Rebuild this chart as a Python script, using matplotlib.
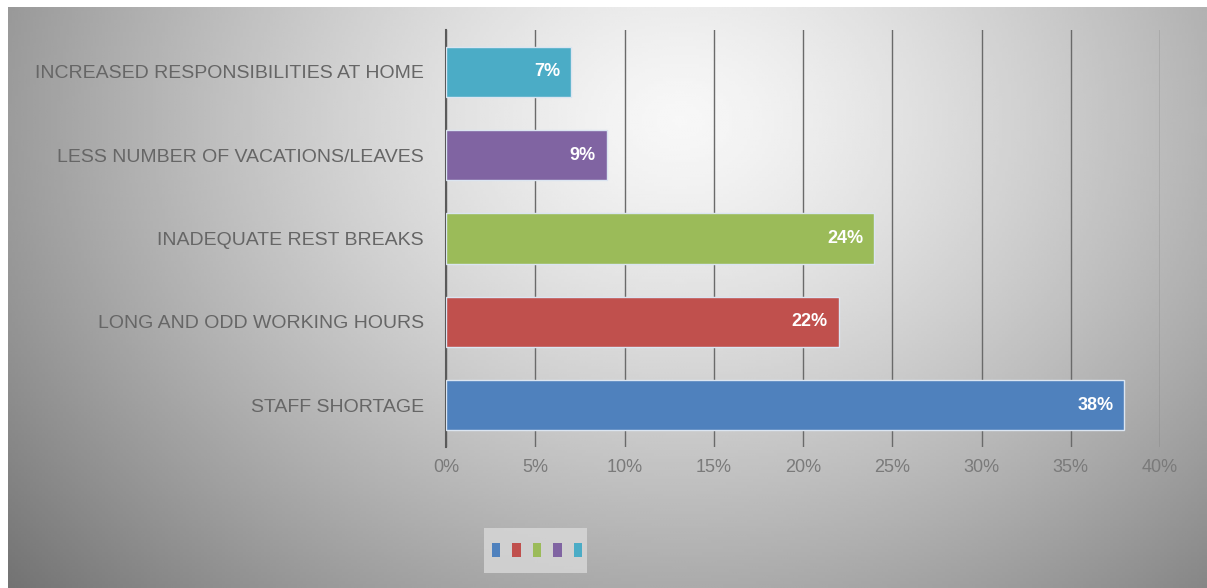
import numpy as np
import matplotlib
matplotlib.use('Agg')
import matplotlib.pyplot as plt
from matplotlib.patches import Patch, Rectangle

categories = ['STAFF SHORTAGE', 'LONG AND ODD WORKING HOURS', 'INADEQUATE REST BREAKS',
              'LESS NUMBER OF VACATIONS/LEAVES', 'INCREASED RESPONSIBILITIES AT HOME']
values = [38, 22, 24, 9, 7]
colors = ['#4f81bd', '#c0504d', '#9bbb59', '#8064a2', '#4bacc6']
xticks = [0, 5, 10, 15, 20, 25, 30, 35, 40]

plt.rcParams['font.family'] = ['Liberation Sans Narrow', 'Liberation Sans', 'DejaVu Sans']

W, H = 1207, 588
fig = plt.figure(figsize=(W / 100, H / 100), dpi=100)
fig.patch.set_facecolor('white')

# grey radial backdrop of the chart panel
bg = fig.add_axes([8 / W, 0, 1 - 8 / W, 1 - 7 / H])
gx, gy = np.meshgrid(np.linspace(8, W, 400), np.linspace(7, H, 200))
d = np.sqrt(((gx - 680) / 700) ** 2 + ((gy - 120) / 560) ** 2)
shade = np.clip(0.97 - 0.38 * d ** 1.3, 0, 1)
bg.imshow(shade, cmap='gray', vmin=0, vmax=1, aspect='auto',
          extent=[0, 1, 0, 1], interpolation='bilinear')
bg.axis('off')

ax = fig.add_axes([446 / W, 1 - 447 / H, (1160 - 446) / W, (447 - 30) / H])
ax.set_facecolor('none')
y = np.arange(len(categories))
bars = ax.barh(y, values, height=0.6, color=colors, edgecolor='#dbe5f1', linewidth=1, zorder=3)

for b, v in zip(bars, values):
    ax.text(b.get_width() - 0.6, b.get_y() + b.get_height() / 2, f'{v}%',
            ha='right', va='center', color='white', fontsize=13, fontweight='bold', zorder=4)

ax.set_xlim(0, 40)
ax.set_ylim(-0.5, len(categories) - 0.5)
ax.set_xticks(xticks)
ax.set_xticklabels([f'{t}%' for t in xticks])
ax.set_yticks(y)
ax.set_yticklabels(categories)
ax.tick_params(axis='x', length=0, colors='#7a7a7a', labelsize=13, pad=9)
ax.tick_params(axis='y', length=0, colors='#666666', labelsize=14, pad=16)
ax.xaxis.grid(True, color='#6a6a6a', linewidth=1, zorder=0)
for s in ['top', 'right', 'bottom']:
    ax.spines[s].set_visible(False)
ax.spines['left'].set_color('#5a5a5a')
ax.spines['left'].set_linewidth(1.5)

# legend panel with colour keys only
fig.patches.append(Rectangle((484 / W, 1 - 573 / H), 103 / W, 45 / H,
                             transform=fig.transFigure, facecolor='#d9d9d9',
                             edgecolor='none', alpha=0.8, zorder=1))
handles = [Patch(facecolor=c, edgecolor='none') for c in colors]
leg = fig.legend(handles, [''] * 5, ncol=5, loc='center',
                 bbox_to_anchor=(537 / W, 1 - 551 / H), frameon=False,
                 handlelength=0.55, handleheight=1.0, handletextpad=0,
                 columnspacing=0.8, borderpad=0, fontsize=11)

fig.savefig('out.png', dpi=100)
